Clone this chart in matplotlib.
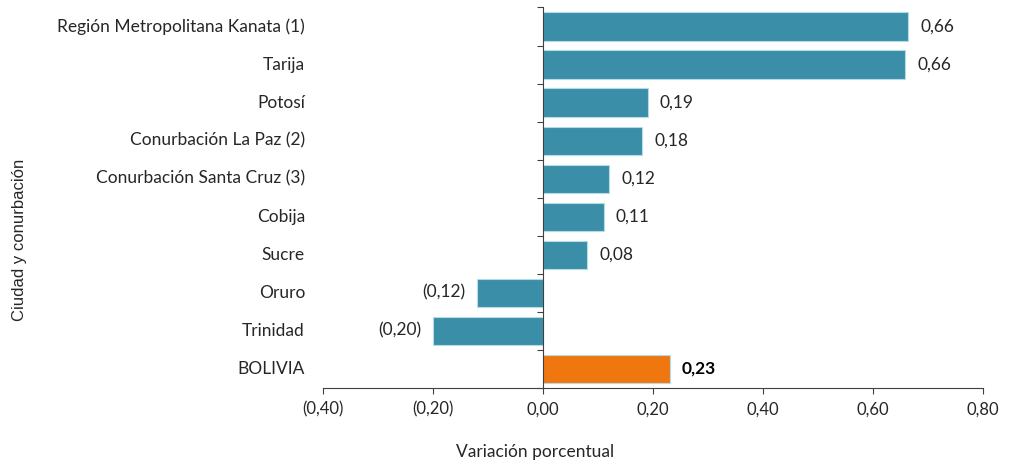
import matplotlib
matplotlib.use("Agg")
import matplotlib.pyplot as plt
import numpy as np

categories = ["Región Metropolitana Kanata (1)", "Tarija", "Potosí",
              "Conurbación La Paz (2)", "Conurbación Santa Cruz (3)", "Cobija",
              "Sucre", "Oruro", "Trinidad", "BOLIVIA"]
values = [0.664, 0.658, 0.19, 0.18, 0.12, 0.11, 0.08, -0.12, -0.20, 0.23]
xticks = [-0.40, -0.20, 0.00, 0.20, 0.40, 0.60, 0.80]

TEAL = "#3a8ea7"
ORANGE = "#f0760f"
TXT = "#262626"

def fmt(v):
    s = f"{abs(v):.2f}".replace(".", ",")
    return f"({s})" if v < 0 else s

plt.rcParams["font.family"] = ["Lato", "DejaVu Sans"]

fig = plt.figure(figsize=(10.24, 4.66), dpi=100)
ax = fig.add_axes([323/1024, 1-387.7/466, 660/1024, 380.2/466])

y = np.arange(len(categories))
colors = [ORANGE if c == "BOLIVIA" else TEAL for c in categories]
ax.barh(y, values, height=0.74, color=colors, edgecolor="#b5dbe6", linewidth=0.8, zorder=2)

ax.set_xlim(-0.40, 0.80)
ax.set_ylim(len(categories) - 0.5, -0.5)

for spine in ["top", "right"]:
    ax.spines[spine].set_visible(False)
ax.spines["left"].set_position(("data", 0))
ax.spines["left"].set_color("#404040")
ax.spines["bottom"].set_color("#404040")
ax.spines["left"].set_zorder(3)

ax.set_yticks(np.arange(-0.5, len(categories), 1))
ax.set_yticklabels([])
ax.tick_params(axis="y", direction="out", length=4, color="#404040")

ax.set_xticks(xticks)
ax.set_xticklabels([fmt(v) for v in xticks], fontsize=12, color=TXT)
ax.tick_params(axis="x", direction="out", length=4, color="#404040", pad=6)

for yi, c in zip(y, categories):
    ax.text(-18/660, yi, c, transform=ax.get_yaxis_transform(), ha="right", va="center",
            fontsize=12.5, color=TXT)

for yi, v, c in zip(y, values, categories):
    bold = c == "BOLIVIA"
    if v >= 0:
        ax.text(v + 0.022, yi, fmt(round(v, 2)), ha="left", va="center", fontsize=12.5,
                color="black" if bold else TXT, fontweight="bold" if bold else "normal")
    else:
        ax.text(v - 0.022, yi, fmt(round(v, 2)), ha="right", va="center", fontsize=12.5,
                color=TXT)

fig.text(20/1024, 1-240/466, "Ciudad y conurbación", rotation=90, ha="center", va="center",
         fontsize=12, color=TXT, family=["Liberation Sans", "DejaVu Sans"])
fig.text(535/1024, 1-452/466, "Variación porcentual", ha="center", va="center",
         fontsize=12.5, color=TXT)

fig.savefig("out.png", dpi=100, facecolor="white")
